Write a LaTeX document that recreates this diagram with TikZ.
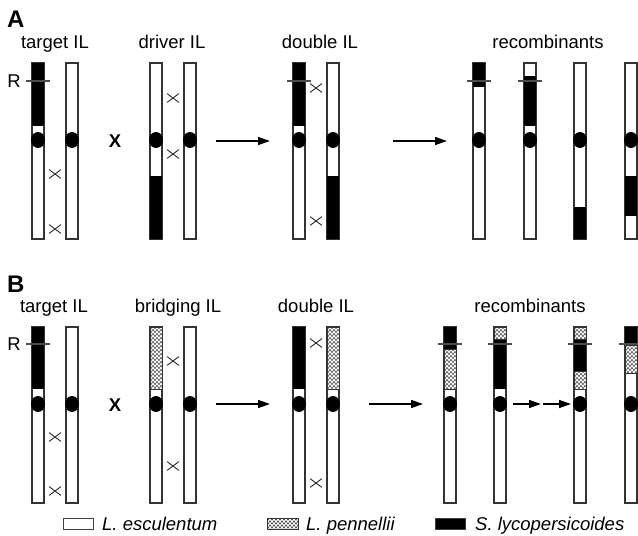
\documentclass[tikz,border=0pt]{standalone}
\usepackage{fontspec}
\setmainfont{Liberation Sans}
\usetikzlibrary{arrows.meta,shapes.misc,shapes.geometric,decorations.pathmorphing}

% wavy (L. pennellii) block: x1, x2, top, bottom
\newcommand{\penn}[4]{%
  \begin{scope}
    \clip (#1,#3) rectangle (#2,#4);
    \fill[white] (#1,#3) rectangle (#2,#4);
    \pgfmathsetmacro{\ynext}{#3+4}
    \pgfmathsetmacro{\ylast}{#4+3}
    \foreach \yy in {#3,\ynext,...,\ylast}
      \draw[zig] (#1-2,\yy) -- (#2+2,\yy);
  \end{scope}
  \draw[penbox] (#1,#3) rectangle (#2,#4);}

\begin{document}
\begin{tikzpicture}[x=1pt,y=-1pt]
  \tikzset{chrom/.style = {shape=rectangle,draw=black!80,fill=white,line width=1.3pt,minimum width=12pt,minimum height=176pt,inner sep=0pt}}
  \tikzset{cen/.style = {shape=ellipse,fill=black,minimum width=14pt,minimum height=16pt,inner sep=0pt}}
  \tikzset{xover/.style = {shape=cross out,draw=black!85,line width=0.9pt,minimum width=11pt,minimum height=8pt,inner sep=0pt}}
  \tikzset{rline/.style = {draw=black!70,line width=1.2pt}}
  \tikzset{zig/.style = {decorate,decoration={zigzag,segment length=4pt,amplitude=1.7pt},line width=0.6pt,draw=black!75}}
  \tikzset{penbox/.style = {draw=black!80,line width=0.7pt}}
  \tikzset{lbl/.style = {font=\fontsize{18.5}{22}\selectfont,anchor=base,inner sep=0pt}}
  \tikzset{panel/.style = {font=\fontsize{24}{28}\selectfont\bfseries,anchor=base west,inner sep=0pt}}
  \tikzset{cross/.style = {font=\fontsize{18.5}{22}\selectfont\bfseries,inner sep=0pt}}
  \tikzset{legtext/.style = {font=\fontsize{18.5}{22}\selectfont\itshape,anchor=base west,inner sep=0pt}}
  \tikzset{legbox/.style = {shape=rectangle,draw=black!75,line width=0.8pt,minimum width=30pt,minimum height=11pt,inner sep=0pt}}
  \tikzset{%
  tipB/.tip={Triangle[length=12pt,width=8pt]},
}
  \tikzset{arr/.style = {-tipB,line width=1.4pt}}

  \useasboundingbox (0,0) rectangle (638,536);

  % labels
  \node[panel] (pA) at (7,27) {A};
  \node[panel] (pB) at (7,292) {B};
  \node[lbl] (tA1) at (55,48) {target IL};
  \node[lbl] (tA2) at (172,48) {driver IL};
  \node[lbl] (tA3) at (320,48) {double IL};
  \node[lbl] (tA4) at (548,48) {recombinants};
  \node[lbl] (tB1) at (54,312) {target IL};
  \node[lbl] (tB2) at (178,312) {bridging IL};
  \node[lbl] (tB3) at (316,312) {double IL};
  \node[lbl] (tB4) at (530,312) {recombinants};
  \node[lbl] (RA) at (14,87) {R};
  \node[lbl] (RB) at (14,350) {R};
  \node[cross] (XA) at (115,141) {X};
  \node[cross] (XB) at (115,405) {X};

  % chromosomes
  \foreach \n/\x in {cA1/38,cA2/72,cA3/156,cA4/190,cA5/299,cA6/333,cA7/479,cA8/530,cA9/580,cA10/631}
    \node[chrom] (\n) at (\x,151) {};
  \foreach \n/\x in {cB1/38,cB2/72,cB3/156,cB4/190,cB5/299,cB6/333,cB7/450,cB8/500,cB9/580,cB10/631}
    \node[chrom] (\n) at (\x,415) {};

  % S. lycopersicoides segments
  \foreach \x/\ya/\yb in {38/63/126,156/176/239,299/63/126,333/176/239,479/63/87,530/76/126,580/207/239,631/176/216,
                          38/327/389,299/327/389,450/327/349,500/339/389,580/339/371,631/327/345}
    \fill (\x-6,\ya) rectangle (\x+6,\yb);

  % L. pennellii segments
  \penn{150}{162}{327}{389}
  \penn{327}{339}{327}{389}
  \penn{444}{456}{349}{389}
  \penn{494}{506}{327}{339}
  \penn{574}{586}{327}{339}
  \penn{574}{586}{371}{389}
  \penn{625}{637}{345}{373}

  % centromeres
  \foreach \x in {38,72,156,190,299,333,479,530,580,631}
    \node[cen] (m\x A) at (\x,140) {};
  \foreach \x in {38,72,156,190,299,333,450,500,580,631}
    \node[cen] (m\x B) at (\x,404) {};

  % R marks
  \foreach \x in {38,299,479,530}
    \draw[rline] (\x-12,81) -- (\x+12,81);
  \foreach \x in {38,450,500,580,631}
    \draw[rline] (\x-12,344) -- (\x+12,344);

  % crossovers
  \foreach \n/\x/\y in {kA1/55/174,kA2/55/229,kA3/173/98,kA4/173/154,kA5/316/88,kA6/316/221,
                        kB1/55/437,kB2/55/491,kB3/173/361,kB4/173/466,kB5/316/343,kB6/316/483}
    \node[xover] (\n) at (\x,\y) {};

  % arrows
  \coordinate (a1s) at (216,141); \coordinate (a1e) at (270,141);
  \coordinate (a2s) at (393,141); \coordinate (a2e) at (447,141);
  \coordinate (b1s) at (216,404); \coordinate (b1e) at (270,404);
  \coordinate (b2s) at (369,404); \coordinate (b2e) at (423,404);
  \coordinate (b3s) at (513,404); \coordinate (b3e) at (541,404);
  \coordinate (b4s) at (543,404); \coordinate (b4e) at (571,404);
  \foreach \from/\to in {a1s/a1e,a2s/a2e,b1s/b1e,b2s/b2e,b3s/b3e,b4s/b4e}
    \draw[arr] (\from) -- (\to);

  % legend
  \node[legbox,fill=white] (lgE) at (78,524) {};
  \penn{267}{298}{518.5}{529.5}
  \node[legbox,fill=black] (lgS) at (450,524) {};
  \node[legtext] (leE) at (102,530) {L. esculentum};
  \node[legtext] (leP) at (306,530) {L. pennellii};
  \node[legtext] (leS) at (475,530) {S. lycopersicoides};
\end{tikzpicture}
\end{document}
